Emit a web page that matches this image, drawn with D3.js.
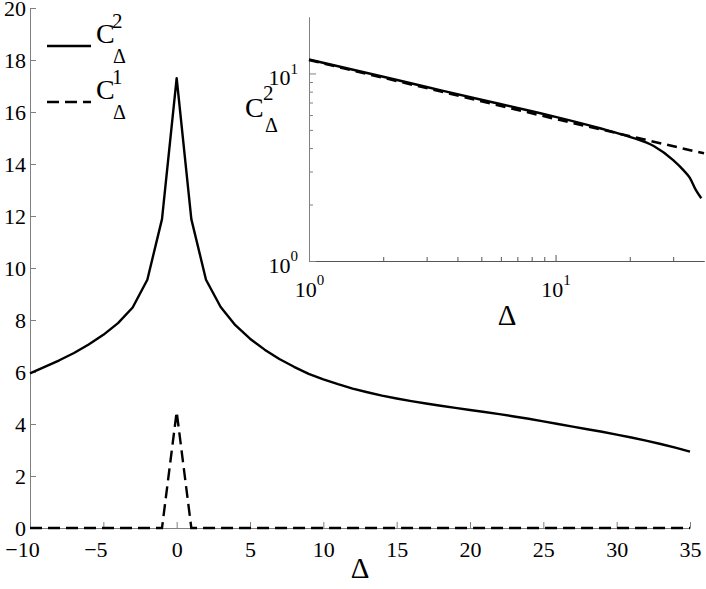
<!DOCTYPE html>
<html lang="en">
<head>
<meta charset="utf-8">
<title>C Delta</title>
<script src="https://cdn.jsdelivr.net/npm/d3@7"></script>
<style>
  body { margin: 0; background: #fff; }
  svg text { font-family: "Liberation Serif", "Times New Roman", Times, "DejaVu Serif", serif; fill: #000; }
</style>
</head>
<body>
<script>
// main plot data
var delta = d3.range(-10, 36);
var c2 = [5.95, 6.2, 6.45, 6.73, 7.06, 7.43, 7.88, 8.48, 9.55, 11.88,
          17.3,
          11.88, 9.55, 8.5, 7.8, 7.28, 6.86, 6.5, 6.2, 5.93, 5.72,
          5.53, 5.36, 5.22, 5.09, 4.98, 4.88, 4.79, 4.7, 4.62, 4.54,
          4.46, 4.38, 4.29, 4.2, 4.1, 4.0, 3.9, 3.8, 3.7, 3.59,
          3.48, 3.36, 3.23, 3.09, 2.94];
var c1Delta = [-10, -1, 0, 1, 35];
var c1 = [0, 0, 4.47, 0, 0];
var xTicks = [-10, -5, 0, 5, 10, 15, 20, 25, 30, 35];
var yTicks = [0, 2, 4, 6, 8, 10, 12, 14, 16, 18, 20];

// inset (log-log) data
var insetDelta = [1, 2, 3, 5, 7, 10, 15, 20, 25, 30, 33, 35, 37, 39];
var insetC2 = [11.87, 9.6, 8.47, 7.24, 6.55, 5.87, 5.12, 4.59, 4.1, 3.45, 3.05, 2.78, 2.4, 2.16];
var fitDelta = [1, 10, 40];
var fitC2 = [11.8, 5.72, 3.75];
var insetMajorX = [1, 10];
var insetMinorX = [2, 3, 4, 5, 6, 7, 8, 9, 20, 30];
var insetMajorY = [1, 10];
var insetMinorY = [2, 3, 4, 5, 6, 7, 8, 9];

var legendSup = ["2", "1"];
var legendDash = [null, "12,6"];

var W = 706, H = 589;
var svg = d3.select("body").append("svg").attr("width", W).attr("height", H);

// ---- main axes ----
var x = d3.scaleLinear().domain([-10, 35]).range([30, 690]);
var y = d3.scaleLinear().domain([0, 20]).range([528, 8]);

var xAxis = d3.axisBottom(x).tickValues(xTicks).tickSizeInner(-6).tickSizeOuter(0).tickPadding(13)
    .tickFormat(function(d) { return d < 0 ? "\u2212" + Math.abs(d) : d; });
var gx = svg.append("g").attr("transform", "translate(0," + y(0) + ")").call(xAxis);
gx.selectAll("text").attr("font-size", 22)
    .attr("dx", function(d) { return d < 0 ? -8 : 0; });
gx.selectAll("line, path").attr("stroke", "#808080");

var yAxis = d3.axisLeft(y).tickValues(yTicks).tickSizeInner(-6).tickSizeOuter(0).tickPadding(4);
var gy = svg.append("g").attr("transform", "translate(" + x(-10) + ",0)").call(yAxis);
gy.selectAll("text").attr("font-size", 22).attr("dy", "0.34em");
gy.selectAll("line, path").attr("stroke", "#808080");

var line = d3.line().x(function(d) { return x(d[0]); }).y(function(d) { return y(d[1]); });

svg.append("path")
    .datum(c1Delta.map(function(d, i) { return [d, c1[i]]; }))
    .attr("d", line).attr("fill", "none").attr("stroke", "#000")
    .attr("stroke-width", 2.4).attr("stroke-dasharray", "12,6");

svg.append("path")
    .datum(delta.map(function(d, i) { return [d, c2[i]]; }))
    .attr("d", line).attr("fill", "none").attr("stroke", "#000")
    .attr("stroke-width", 2.4).attr("stroke-linejoin", "round");

svg.append("text").attr("x", 360).attr("y", 578).attr("text-anchor", "middle")
    .attr("font-size", 29).text("\u0394");

// ---- legend ----
var leg = svg.append("g").selectAll("g").data(legendSup).join("g")
    .attr("transform", function(d, i) { return "translate(0," + (46 + i * 56) + ")"; });
leg.append("line").attr("x1", 47).attr("x2", 91).attr("y1", 0).attr("y2", 0)
    .attr("stroke", "#000").attr("stroke-width", 2.4)
    .attr("stroke-dasharray", function(d, i) { return legendDash[i]; });
leg.append("text").attr("x", 96).attr("y", -3).attr("font-size", 28).text("C");
leg.append("text").attr("x", 112).attr("y", -18).attr("font-size", 21).text(function(d) { return d; });
leg.append("text").attr("x", 113).attr("y", 17).attr("font-size", 20).text("\u0394");

// ---- inset ----
var xi = d3.scaleLog().domain([1, 40]).range([309, 704]);
var yi = d3.scaleLog().domain([1, 20]).range([261, 17]);

function powLabel(sel) {
  sel.each(function(d) {
    var t = d3.select(this).text(null);
    t.append("tspan").text("10");
    t.append("tspan").attr("font-size", 15).attr("dy", "-0.75em").text(Math.round(Math.log10(d)));
  });
}

var gxi = svg.append("g").attr("transform", "translate(0," + yi(1) + ")");
gxi.append("g").call(d3.axisBottom(xi).tickValues(insetMinorX).tickSizeInner(-4).tickSizeOuter(0).tickFormat(""));
var gxiMaj = gxi.append("g").call(d3.axisBottom(xi).tickValues(insetMajorX).tickSizeInner(-6).tickSizeOuter(0).tickPadding(20));
gxiMaj.selectAll("text").attr("font-size", 22).call(powLabel);
gxi.selectAll("line, path").attr("stroke", "#555");

var gyi = svg.append("g").attr("transform", "translate(" + xi(1) + ",0)");
gyi.append("g").call(d3.axisLeft(yi).tickValues(insetMinorY).tickSizeInner(-4).tickSizeOuter(0).tickFormat(""));
var gyiMaj = gyi.append("g").call(d3.axisLeft(yi).tickValues(insetMajorY).tickSizeInner(-7).tickSizeOuter(0).tickPadding(11));
gyiMaj.selectAll("text").attr("font-size", 22).attr("dy", "0.5em").call(powLabel);
gyi.selectAll("line, path").attr("stroke", "#808080");

var lineI = d3.line().x(function(d) { return xi(d[0]); }).y(function(d) { return yi(d[1]); }).curve(d3.curveMonotoneX);

svg.append("path")
    .datum(fitDelta.map(function(d, i) { return [d, fitC2[i]]; }))
    .attr("d", d3.line().x(function(d) { return xi(d[0]); }).y(function(d) { return yi(d[1]); }))
    .attr("fill", "none").attr("stroke", "#000").attr("stroke-width", 2.6).attr("stroke-dasharray", "10,6");

svg.append("path")
    .datum(insetDelta.map(function(d, i) { return [d, insetC2[i]]; }))
    .attr("d", lineI).attr("fill", "none").attr("stroke", "#000").attr("stroke-width", 2.4);

svg.append("text").attr("x", 507).attr("y", 325).attr("text-anchor", "middle")
    .attr("font-size", 29).text("\u0394");
svg.append("text").attr("x", 245).attr("y", 117).attr("font-size", 28).text("C");
svg.append("text").attr("x", 263).attr("y", 100).attr("font-size", 21).text("2");
svg.append("text").attr("x", 265).attr("y", 132).attr("font-size", 20).text("\u0394");
</script>
</body>
</html>
